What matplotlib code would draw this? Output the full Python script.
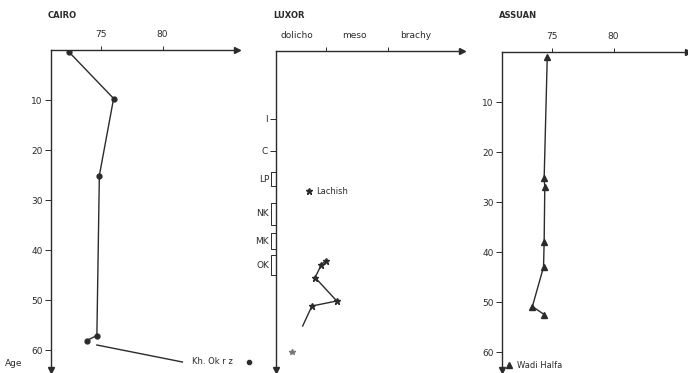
import matplotlib
matplotlib.use('Agg')
from matplotlib import pyplot as plt
import numpy as np

# values (x = cephalic index, y = age)
cairo_x=[72.45,76.05,74.9,74.7,73.9]
cairo_age=[0.4,9.7,25.1,57.1,58.1]
luxor_x=[75.0,74.65,74.15,75.9,73.9,73.15]
luxor_age=[41.9,42.8,45.3,50.0,51.0,55.0]
lachish=(73.7,28.0)
assuan_x=[74.65,74.4,74.45,74.4,74.35,73.45,74.4]
assuan_age=[1.0,25.2,27.0,37.9,43.0,50.9,52.5]
age_ticks=[10,20,30,40,50,60]
index_ticks=[75,80]
luxor_marks=[13.6,19.9]
luxor_mark_labels=['I','C']
periods=['LP','NK','MK','OK']
period_top=[24.2,30.4,36.4,40.8]
period_bot=[27.0,34.8,39.6,44.8]
classes=['dolicho','meso','brachy']
class_pos=[72.7,77.3,82.3]

W,H=688,373
col='#2b2b2b'
fig=plt.figure(figsize=(W/100,H/100),dpi=100)
plt.rcParams['font.family']='DejaVu Sans'

def make_ax(left,top,title):
    bottom=370
    ax=fig.add_axes([left/W,1-bottom/H,186/W,(bottom-top)/H])
    ax.set_xlim(71,86)
    ax.set_ylim((bottom-top)/5.0,0)
    ax.patch.set_alpha(0)
    for s in ['right','bottom']:
        ax.spines[s].set_visible(False)
    for s in ['left','top']:
        ax.spines[s].set_color(col)
        ax.spines[s].set_linewidth(1.0)
    ax.xaxis.tick_top()
    ax.tick_params(axis='x',direction='out',length=3,width=0.7,colors=col,labelsize=6.5,pad=5)
    ax.tick_params(axis='y',direction='out',length=4,width=0.7,colors=col,labelsize=6.5,pad=2)
    ax.plot(1,1,'>',color=col,ms=5,transform=ax.transAxes,clip_on=False)
    ax.plot(0,0,'v',color=col,ms=4,transform=ax.transAxes,clip_on=False)
    fig.text((left-3)/W,1-16/H,title,fontsize=6,color=col,fontweight='bold',va='center')
    return ax

# Cairo
ax1=make_ax(51,50,'CAIRO')
ax1.set_xticks(index_ticks)
ax1.set_yticks(age_ticks)
ax1.plot(cairo_x,cairo_age,'-o',color=col,ms=3.5,lw=1)
ax1.plot([74.7,81.6],[59.0,62.4],'-',color=col,lw=1,clip_on=False)
ax1.text(82.4,62.4,'Kh. Ok r z',fontsize=6,color=col,va='center',clip_on=False)
ax1.plot(87.0,62.4,'o',color=col,ms=3,clip_on=False)
fig.text(5/W,1-364/H,'Age',fontsize=6.5,color=col,va='center')

# Luxor
ax2=make_ax(276,51,'LUXOR')
ax2.set_xticks(index_ticks)
ax2.set_xticklabels(['',''])
ax2.set_yticks(luxor_marks)
ax2.set_yticklabels(luxor_mark_labels)
for lab,p in zip(classes,class_pos):
    ax2.text(p,-2.2,lab,fontsize=6.5,color=col,ha='center',va='bottom',clip_on=False)
for lab,t,b in zip(periods,period_top,period_bot):
    ax2.plot([71,70.6,70.6,71],[t,t,b,b],'-',color=col,lw=0.7,clip_on=False)
    ax2.text(70.45,(t+b)/2,lab,fontsize=6.5,color=col,ha='right',va='center',clip_on=False)
ax2.plot(luxor_x,luxor_age,'-',color=col,lw=1)
ax2.plot(luxor_x[:-1],luxor_age[:-1],'*',color=col,ms=5)
ax2.plot(*lachish,'*',color=col,ms=5)
ax2.text(lachish[0]+0.5,lachish[1],'Lachish',fontsize=6,color=col,va='center')
ax2.plot(72.3,60.2,'*',color='#777777',ms=4)

# Assuan
ax3=make_ax(502,52,'ASSUAN')
ax3.set_xticks(index_ticks)
ax3.set_yticks(age_ticks)
ax3.plot(assuan_x,assuan_age,'-^',color=col,ms=5,lw=1)
ax3.plot(71.55,62.6,'^',color=col,ms=5,clip_on=False)
ax3.text(72.2,62.6,'Wadi Halfa',fontsize=6,color=col,va='center',clip_on=False)

fig.savefig('out.png',dpi=100)
